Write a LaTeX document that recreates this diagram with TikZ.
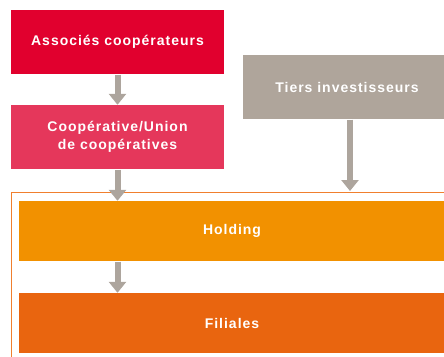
\documentclass[tikz,border=0pt]{standalone}
\usepackage{fontspec}
\usepackage{tikz}
\usetikzlibrary{arrows.meta,positioning}
\newfontfamily\lblfont{Liberation Sans}[LetterSpace=7]

\definecolor{assocred}{HTML}{E1002E}
\definecolor{cooppink}{HTML}{E5375B}
\definecolor{tiersgray}{HTML}{AFA59B}
\definecolor{holdorange}{HTML}{F29100}
\definecolor{filorange}{HTML}{E9650F}
\definecolor{frameorange}{HTML}{F07F2E}
\definecolor{flowgray}{HTML}{ADA59D}

\begin{document}
\begin{tikzpicture}[
    x=1pt, y=-1pt,
    bx/.style={rectangle, inner sep=0pt, text=white, align=center,
        font=\lblfont\bfseries\fontsize{14}{18.5}\selectfont},
    flow/.style={-{Triangle[width=17pt,length=11pt]}, line width=6pt, flowgray, shorten <=0.5pt},
    grp/.style={draw=frameorange, line width=0.9pt}
]
\useasboundingbox (0,0) rectangle (444,356);
\node[bx, fill=assocred, minimum width=213pt, minimum height=64pt] (assoc) at (117.5,42) {Associés coopérateurs};
\node[bx, fill=cooppink, minimum width=213pt, minimum height=64pt] (coop) at (117.5,137) {Coopérative/Union\\de coopératives};
\node[bx, fill=tiersgray, minimum width=208pt, minimum height=64pt] (tiers) at (347,87) {Tiers investisseurs};
\draw[grp] (11,192.5) rectangle (452,362);
\coordinate (grptop) at (350,191);
\node[bx, fill=holdorange, minimum width=426pt, minimum height=60pt] (hold) at (232,231) {Holding};
\node[bx, fill=filorange, minimum width=426pt, minimum height=60pt] (fil) at (232,323) {Filiales};
\draw[flow] (assoc.south) -- (coop.north);
\draw[flow] (coop.south) -- (hold.north -| coop.south);
\draw[flow] (tiers.south -| grptop) -- (grptop);
\draw[flow] (hold.south -| coop.south) -- (fil.north -| coop.south);
\end{tikzpicture}
\end{document}
